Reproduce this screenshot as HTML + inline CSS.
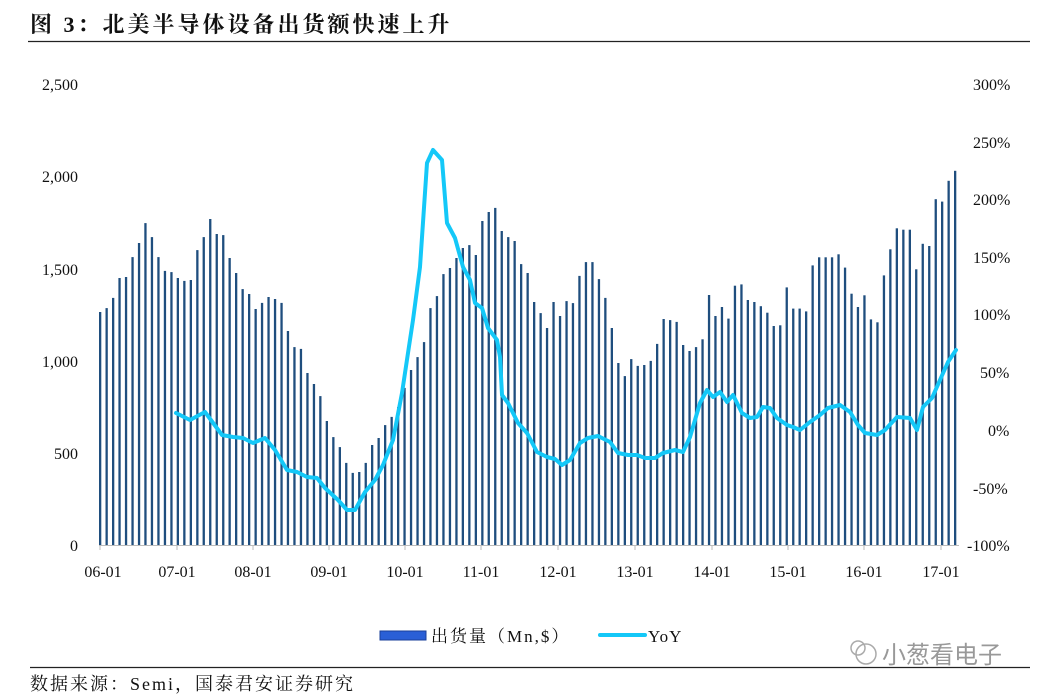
<!DOCTYPE html>
<html><head><meta charset="utf-8"><style>
html,body{margin:0;padding:0;background:#fff;}
svg{display:block;}
</style></head><body>
<svg id="s" width="1048" height="700" xmlns="http://www.w3.org/2000/svg" font-family="'Liberation Serif','Noto Serif CJK SC',serif">
<text x="30" y="32" font-size="22" font-weight="bold" fill="#111" letter-spacing="3">图 3：北美半导体设备出货额快速上升</text>
<line x1="28" y1="41.5" x2="1030" y2="41.5" stroke="#222" stroke-width="1.2"/>
<g font-size="16" fill="#111" text-anchor="end">
<text x="78" y="90">2,500</text><text x="78" y="182">2,000</text><text x="78" y="275">1,500</text><text x="78" y="367">1,000</text><text x="78" y="459">500</text><text x="78" y="551">0</text>
</g>
<g font-size="16" fill="#111">
<text x="973" y="90">300%</text><text x="973" y="148">250%</text><text x="973" y="205">200%</text><text x="973" y="263">150%</text><text x="973" y="320">100%</text><text x="980" y="378">50%</text><text x="988" y="436">0%</text><text x="973" y="494">-50%</text><text x="967" y="551">-100%</text>
</g>
<g id="bars"></g>
<line x1="99" y1="545.5" x2="959" y2="545.5" stroke="#bbb" stroke-width="1"/>
<g id="ticks" stroke="#bbb"></g>
<g font-size="16" fill="#111" text-anchor="middle">
<text x="103" y="577">06-01</text><text x="177" y="577">07-01</text><text x="253" y="577">08-01</text><text x="329" y="577">09-01</text><text x="405" y="577">10-01</text><text x="481" y="577">11-01</text><text x="558" y="577">12-01</text><text x="635" y="577">13-01</text><text x="712" y="577">14-01</text><text x="788" y="577">15-01</text><text x="864" y="577">16-01</text><text x="941" y="577">17-01</text>
</g>
<polyline id="yoy" fill="none" stroke="#14c8f8" stroke-width="4" stroke-linejoin="round" stroke-linecap="round"/>
<rect x="380" y="631" width="46" height="9" fill="#2a5fd6" stroke="#1a3f9a" stroke-width="1"/>
<text x="431" y="642" font-size="17" fill="#111" letter-spacing="2">出货量（Mn,$）</text>
<line x1="600" y1="635" x2="645" y2="635" stroke="#14c8f8" stroke-width="4" stroke-linecap="round"/>
<text x="648" y="642" font-size="17" fill="#111" letter-spacing="1">YoY</text>
<line x1="30" y1="667.5" x2="1030" y2="667.5" stroke="#222" stroke-width="1.2"/>
<text x="30" y="690" font-size="18" fill="#111" letter-spacing="2">数据来源：Semi，国泰君安证券研究</text>
<circle cx="866" cy="654" r="10" fill="none" stroke="#aaa" stroke-width="1.5"/>
<circle cx="858" cy="648" r="7" fill="none" stroke="#aaa" stroke-width="1.5"/>
<text x="882" y="663" font-size="24" fill="#999" font-family="'Noto Sans CJK SC',sans-serif">小葱看电子</text>
</svg>
<script>
var v=[1261,1282,1337,1445,1450,1558,1634,1742,1666,1558,1483,1477,1445,1429,1434,1596,1666,1764,1683,1677,1553,1472,1385,1358,1277,1310,1342,1331,1310,1158,1071,1061,931,871,806,671,584,530,444,390,395,444,541,579,649,693,747,850,947,
1017,1098,1282,1347,1466,1499,1553,1607,1623,1569,1753,1802,1824,1699,1666,1645,1520,1472,1315,1255,1174,1315,1239,1320,1309,1456,1531,1531,1439,1337,1174,985,914,1006,969,974,996,1088,1223,1217,1207,1082,1050,1071,
1113,1353,1239,1288,1225,1403,1410,1326,1315,1292,1257,1185,1189,1394,1279,1279,1264,1513,1557,1557,1557,1573,1501,1360,1288,1351,1221,1205,1459,1600,1714,1706,1706,1492,1630,1618,1871,1858,1971,2025];
var g=document.getElementById('bars'),n=v.length,h='';
for(var i=0;i<n;i++){var x=100+i*(855/(n-1));var y=545-v[i]*0.1848;h+='<rect x="'+(x-1).toFixed(1)+'" y="'+y.toFixed(1)+'" width="2.3" height="'+(545-y).toFixed(1)+'" fill="#1f4e7e"/>';}
g.innerHTML=h;
var t='';[100,177,253,329,405,481,558,635,712,788,864,941].forEach(function(x){t+='<line x1="'+x+'" y1="545" x2="'+x+'" y2="550"/>';});
document.getElementById('ticks').innerHTML=t;
var p=[[176,413],[190,420],[205,412],[222,435],[233,437],[243,438],[253,443],[265,438],[275,450],[287,470],[297,472],[307,477],[317,478],[325,488],[338,500],[347,510],[355,510],[365,492],[375,480],[383,465],[393,440],[402,393],[408,353],[413,320],[420,267],[427,163],[433,150],[442,160],[447,223],[455,238],[463,267],[470,280],[475,303],[482,308],[488,328],[497,340],[500,357],[502,395],[508,403],[518,423],[527,433],[537,452],[547,457],[555,459],[562,465],[570,460],[580,443],[588,438],[598,436],[610,442],[618,453],[628,455],[637,455],[645,458],[655,458],[663,453],[675,450],[683,452],[690,437],[700,403],[707,390],[713,397],[720,392],[727,402],[733,395],[742,413],[750,418],[757,417],[763,407],[770,408],[777,418],[787,425],[793,427],[800,430],[810,422],[820,415],[828,408],[840,405],[850,412],[858,425],[865,433],[877,435],[885,430],[897,417],[910,418],[917,430],[923,407],[932,398],[940,380],[948,362],[956,350]];
document.getElementById('yoy').setAttribute('points',p.map(function(a){return a.join(',')}).join(' '));
</script>
</body></html>
